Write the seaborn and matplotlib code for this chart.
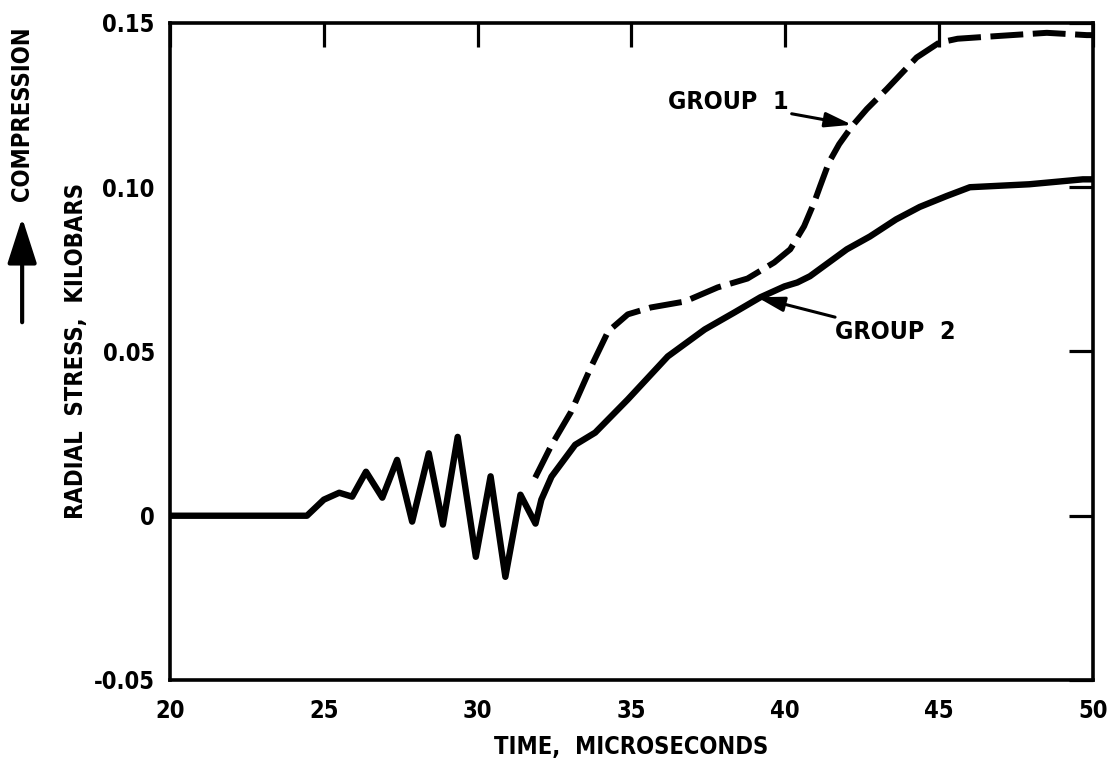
import matplotlib
matplotlib.use("Agg")
import matplotlib.pyplot as plt
from matplotlib.patches import FancyArrowPatch
import seaborn as sns

# 곡선 데이터
group1_time = [31.87, 32.4, 33.04, 33.69, 34.24, 34.88, 35.63, 36.73, 37.8, 38.77,
               39.64, 40.16, 40.61, 40.94, 41.13, 41.42, 41.75, 42.17, 42.65, 43.3,
               44.27, 45.0, 45.6, 46.86, 48.5, 49.8, 50.0]
group1_stress = [0.0116, 0.0215, 0.0317, 0.0454, 0.0561, 0.0613, 0.0634, 0.0652, 0.0695, 0.0722,
                 0.0771, 0.0811, 0.0881, 0.0954, 0.1003, 0.1076, 0.1131, 0.1186, 0.1238, 0.1299,
                 0.1395, 0.1440, 0.1452, 0.1460, 0.1470, 0.1463, 0.1463]

group2_time = [20.0, 24.45, 25.0, 25.5, 25.92, 26.37, 26.9, 27.38, 27.87, 28.41,
               28.87, 29.35, 29.94, 30.42, 30.9, 31.39, 31.88, 32.07, 32.4, 33.17,
               33.82, 34.88, 36.18, 37.38, 38.35, 39.19, 39.97, 40.39, 40.8, 42.0,
               42.75, 43.6, 44.37, 45.24, 46.0, 47.93, 49.67, 50.0]
group2_stress = [0.0, 0.0, 0.0049, 0.0070, 0.0058, 0.0134, 0.0055, 0.0170, -0.0018, 0.0190,
                 -0.0027, 0.0240, -0.0125, 0.0120, -0.0186, 0.0064, -0.0024, 0.0049, 0.0119, 0.0216,
                 0.0253, 0.0354, 0.0485, 0.0567, 0.0619, 0.0665, 0.0698, 0.0710, 0.0729, 0.0811,
                 0.0850, 0.0902, 0.0940, 0.0973, 0.1000, 0.1009, 0.1024, 0.1024]

x_ticks = [20, 25, 30, 35, 40, 45, 50]
y_ticks = [-0.05, 0, 0.05, 0.10, 0.15]
y_tick_labels = ["-0.05", "0", "0.05", "0.10", "0.15"]

sns.set_style("white")
plt.rcParams['font.family'] = ['DejaVu Sans']
plt.rcParams['font.stretch'] = 'condensed'
plt.rcParams['font.weight'] = 'bold'
for key in ['text.color', 'axes.labelcolor', 'xtick.color', 'ytick.color']:
    plt.rcParams[key] = 'black'

fig = plt.figure(figsize=(11.07, 7.63), dpi=100)
ax = fig.add_axes([0.1536, 0.1088, 0.8337, 0.8611])

sns.lineplot(x=group2_time, y=group2_stress, ax=ax, color="black", linewidth=4.6,
             solid_joinstyle="round", solid_capstyle="round")
sns.lineplot(x=group1_time, y=group1_stress, ax=ax, color="black", linewidth=4.3,
             linestyle=(0, (5.5, 1.6)), dash_joinstyle="round")

FS = 17
ax.set_xlim(20, 50)
ax.set_ylim(-0.05, 0.15)
ax.set_xticks(x_ticks)
ax.set_xticklabels([str(t) for t in x_ticks], fontsize=FS, fontweight='bold')
ax.set_yticks(y_ticks)
ax.set_yticklabels(y_tick_labels, fontsize=FS, fontweight='bold')
ax.tick_params(direction="in", length=17, width=2.3, top=True, right=True,
               color="black")
ax.tick_params(axis="x", pad=14)
ax.tick_params(axis="y", pad=11)
for sp in ax.spines.values():
    sp.set_visible(True)
    sp.set_linewidth(2.6)
    sp.set_color("black")

ax.set_xlabel("TIME,  MICROSECONDS", fontsize=FS, fontweight='bold', labelpad=8)
ax.set_ylabel("RADIAL  STRESS,  KILOBARS", fontsize=FS, fontweight='bold', labelpad=4)

# 압축 방향 표시
fig.text(0.020, 0.851, "COMPRESSION", rotation=90, ha="center", va="center",
         fontsize=FS, fontweight='bold')
fig.patches.append(FancyArrowPatch(
    (0.020, 1 - 325 / 763), (0.020, 1 - 215 / 763), transform=fig.transFigure,
    arrowstyle="-|>,head_length=1.4,head_width=0.45", mutation_scale=20,
    lw=3, color="black"))

arrow_kw = dict(arrowstyle="-|>,head_length=0.9,head_width=0.25", lw=2.2,
                color="black", shrinkA=0, shrinkB=0)
ax.annotate("GROUP  1", xy=(42.17, 0.1190), xytext=(40.1, 0.1259),
            ha="right", va="center", fontsize=FS + 1, fontweight='bold',
            arrowprops=arrow_kw)
ax.annotate("GROUP  2", xy=(39.09, 0.0665), xytext=(41.6, 0.0558),
            ha="left", va="center", fontsize=FS + 1, fontweight='bold',
            arrowprops=arrow_kw)

fig.savefig("out.png", dpi=100)
